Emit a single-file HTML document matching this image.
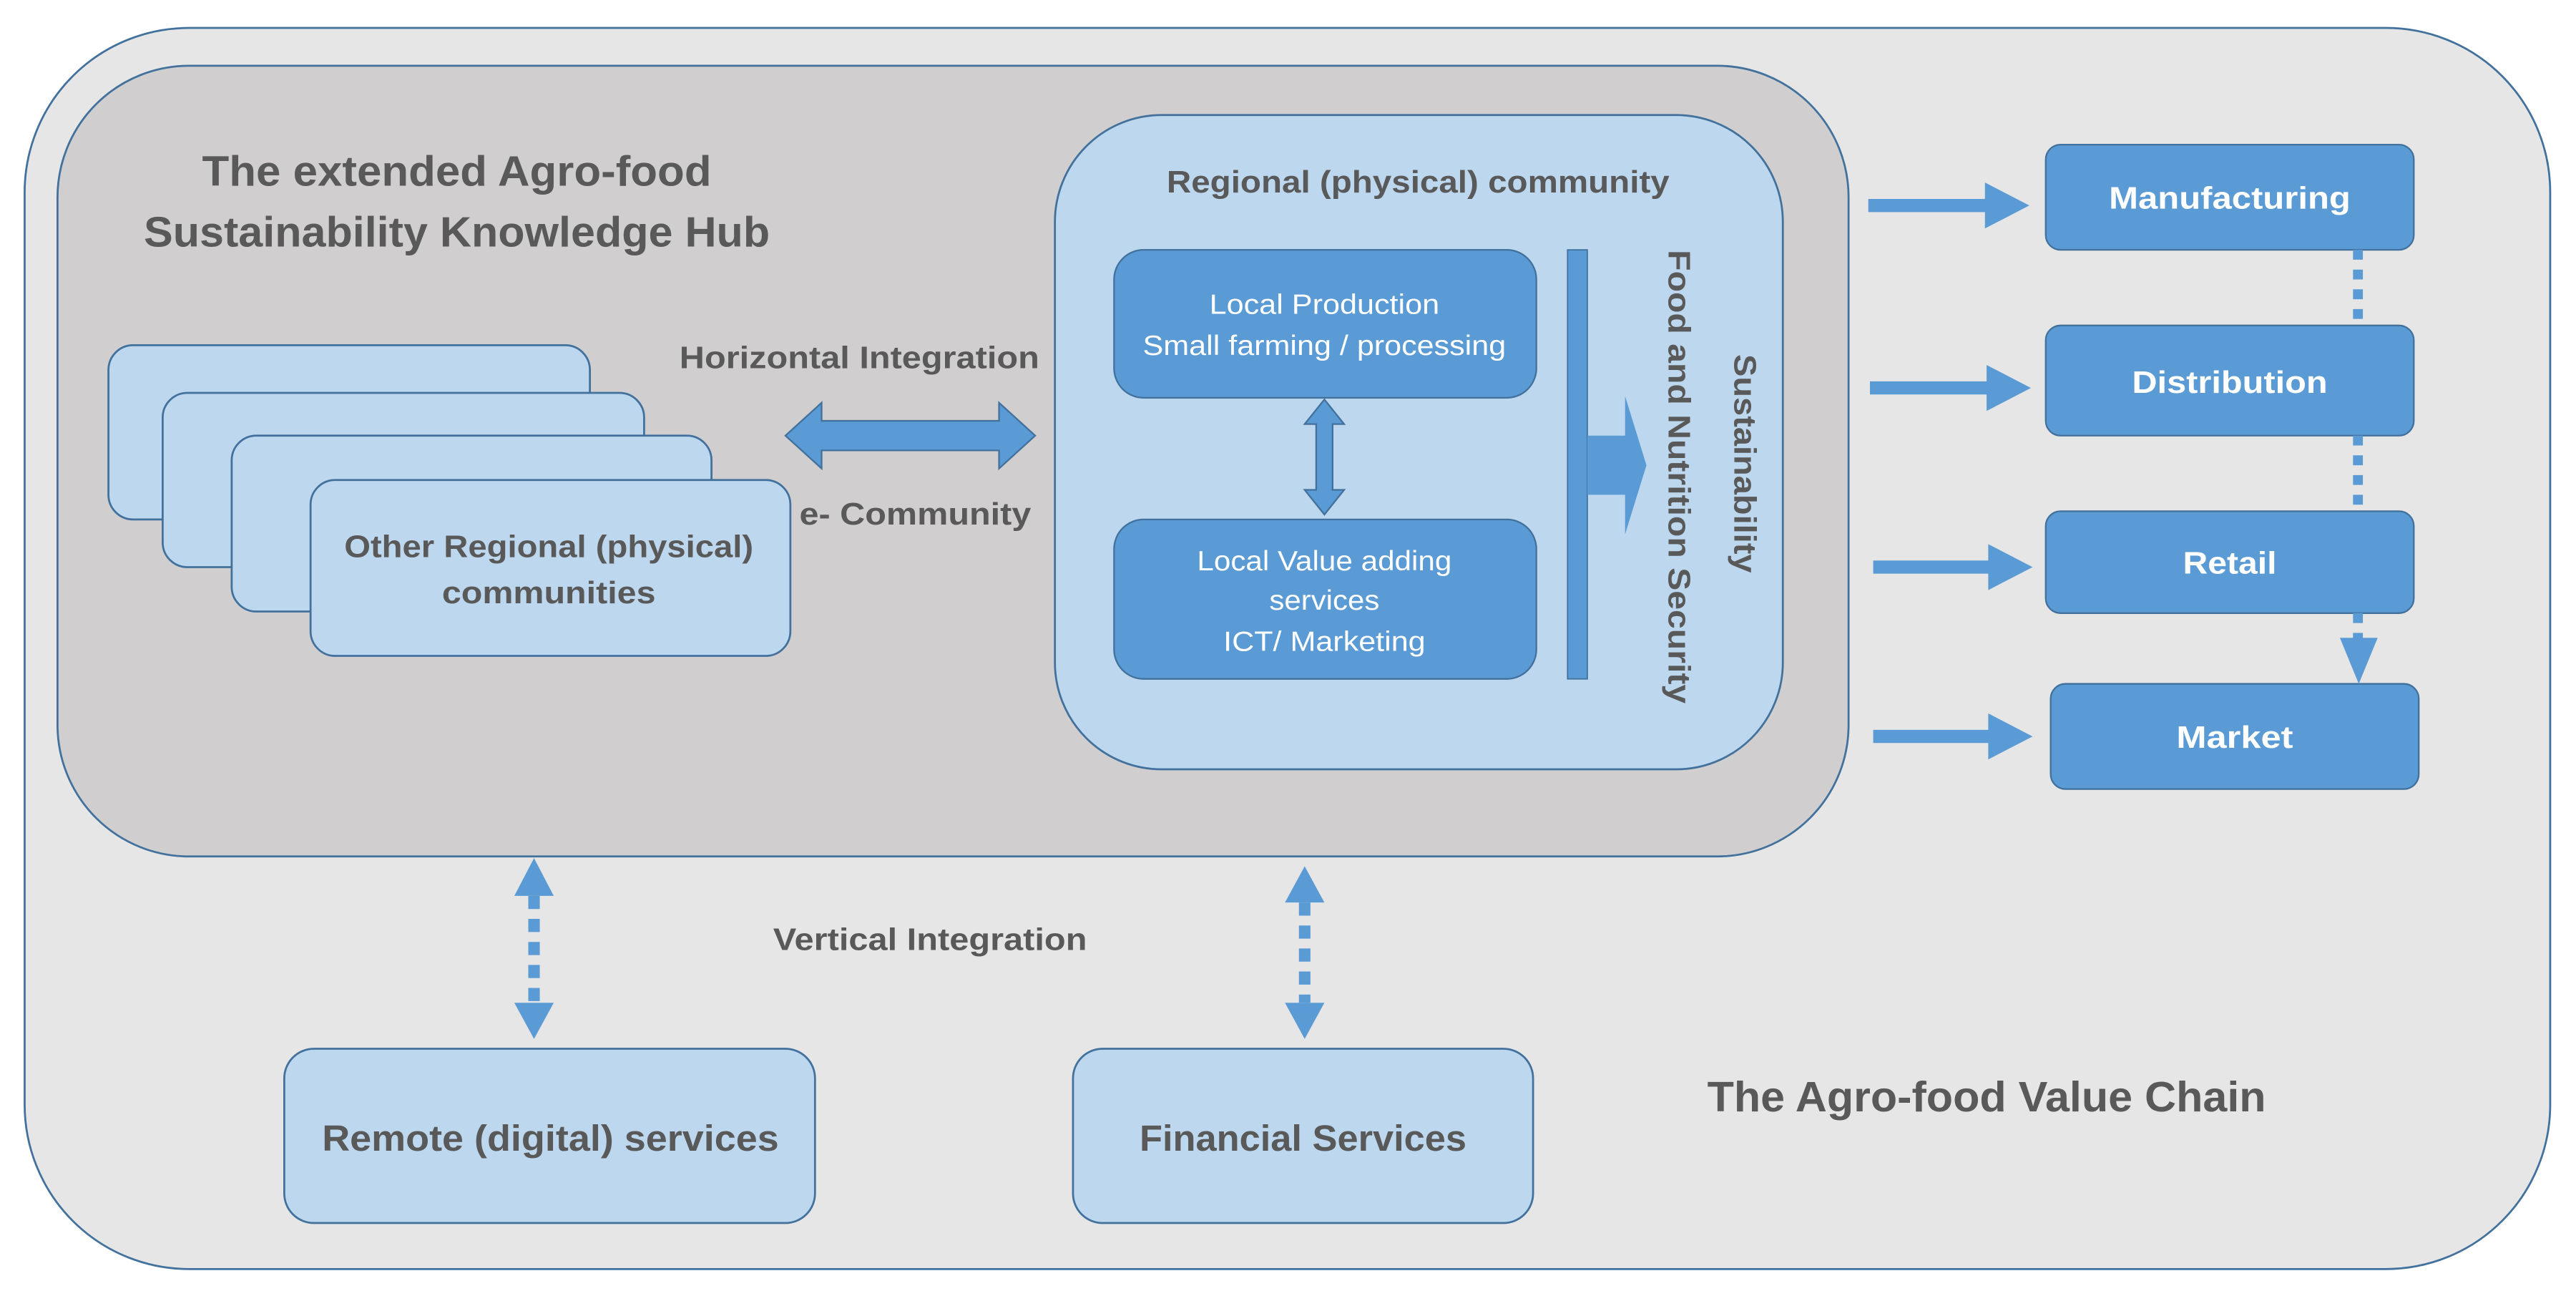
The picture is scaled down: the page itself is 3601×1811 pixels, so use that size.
<!DOCTYPE html>
<html><head><meta charset="utf-8"><style>html,body{margin:0;padding:0;background:#fff}svg{display:block}</style></head>
<body>
<svg width="3601" height="1811" viewBox="0 0 1567.7 788.4" preserveAspectRatio="none" xmlns="http://www.w3.org/2000/svg" font-family="'Liberation Sans', sans-serif">
<rect x="0" y="0" width="1567.7" height="788.4" fill="#fff"/>
<rect x="15" y="17" width="1537" height="755" rx="100" fill="#e6e6e6" stroke="#41719c" stroke-width="1.2"/>
<rect x="35" y="40" width="1090" height="481" rx="80" fill="#d0cece" stroke="#41719c" stroke-width="1.2"/>
<g font-weight="bold" fill="#595959">
<text x="278" y="113" font-size="26" text-anchor="middle" textLength="310" lengthAdjust="spacingAndGlyphs">The extended Agro-food</text>
<text x="278" y="150" font-size="26" text-anchor="middle" textLength="381" lengthAdjust="spacingAndGlyphs">Sustainability Knowledge Hub</text>
</g>
<g fill="#bdd7ee" stroke="#41719c" stroke-width="1.2">
<rect x="66" y="210" width="293" height="106" rx="15"/>
<rect x="99" y="239" width="293" height="106" rx="15"/>
<rect x="141" y="265" width="292" height="107" rx="15"/>
<rect x="189" y="292" width="292" height="107" rx="15"/>
</g>
<g font-weight="bold" fill="#595959" font-size="19" text-anchor="middle">
<text x="334" y="339" textLength="249" lengthAdjust="spacingAndGlyphs">Other Regional (physical)</text>
<text x="334" y="367" textLength="130" lengthAdjust="spacingAndGlyphs">communities</text>
<text x="523" y="224" textLength="219" lengthAdjust="spacingAndGlyphs">Horizontal Integration</text>
<text x="557" y="319" textLength="141" lengthAdjust="spacingAndGlyphs">e- Community</text>
<text x="566" y="578" textLength="191" lengthAdjust="spacingAndGlyphs">Vertical Integration</text>
</g>
<polygon points="478,265 500,245 500,256 608,256 608,245 630,265 608,285 608,274 500,274 500,285" fill="#5b9bd5" stroke="#41719c" stroke-width="1"/>
<rect x="642" y="70" width="443" height="398" rx="65" fill="#bdd7ee" stroke="#41719c" stroke-width="1.2"/>
<text x="863" y="117" font-size="19" font-weight="bold" fill="#595959" text-anchor="middle" textLength="306" lengthAdjust="spacingAndGlyphs">Regional (physical) community</text>
<rect x="678" y="152" width="257" height="90" rx="18" fill="#5b9bd5" stroke="#41719c" stroke-width="1"/>
<rect x="678" y="316" width="257" height="97" rx="18" fill="#5b9bd5" stroke="#41719c" stroke-width="1"/>
<g fill="#fff" font-size="17" text-anchor="middle">
<text x="806" y="191" textLength="140" lengthAdjust="spacingAndGlyphs">Local Production</text>
<text x="806" y="216" textLength="221" lengthAdjust="spacingAndGlyphs">Small farming / processing</text>
<text x="806" y="347" textLength="155" lengthAdjust="spacingAndGlyphs">Local Value adding</text>
<text x="806" y="371" textLength="67" lengthAdjust="spacingAndGlyphs">services</text>
<text x="806" y="396" textLength="123" lengthAdjust="spacingAndGlyphs">ICT/ Marketing</text>
</g>
<polygon points="806,243 818,258 811,258 811,298 818,298 806,313 794,298 801,298 801,258 794,258" fill="#5b9bd5" stroke="#41719c" stroke-width="1"/>
<rect x="954" y="152" width="12" height="261" fill="#5b9bd5" stroke="#41719c" stroke-width="0.8"/>
<polygon points="966,265 989,265 989,241 1002,283 989,325 989,301 966,301" fill="#5b9bd5"/>
<g fill="#595959" font-weight="bold" font-size="19">
<text transform="translate(1022,290) rotate(90)" y="6.5" text-anchor="middle" textLength="276" lengthAdjust="spacingAndGlyphs">Food and Nutrition Security</text>
<text transform="translate(1062,282) rotate(90)" y="6.5" text-anchor="middle" textLength="133" lengthAdjust="spacingAndGlyphs">Sustainability</text>
</g>
<g fill="#5b9bd5" stroke="#41719c" stroke-width="1">
<rect x="1245" y="88" width="224" height="64" rx="9"/>
<rect x="1245" y="198" width="224" height="67" rx="9"/>
<rect x="1245" y="311" width="224" height="62" rx="9"/>
<rect x="1248" y="416" width="224" height="64" rx="9"/>
</g>
<g fill="#fff" font-weight="bold" font-size="19" text-anchor="middle">
<text x="1357" y="127" textLength="147" lengthAdjust="spacingAndGlyphs">Manufacturing</text>
<text x="1357" y="239" textLength="119" lengthAdjust="spacingAndGlyphs">Distribution</text>
<text x="1357" y="349" textLength="57" lengthAdjust="spacingAndGlyphs">Retail</text>
<text x="1360" y="455" textLength="71" lengthAdjust="spacingAndGlyphs">Market</text>
</g>
<g fill="#5b9bd5">
<polygon points="1137,121 1208,121 1208,111 1235,125 1208,139 1208,129 1137,129"/>
<polygon points="1138,232 1209,232 1209,222 1236,236 1209,250 1209,240 1138,240"/>
<polygon points="1140,341 1210,341 1210,331 1237,345 1210,359 1210,349 1140,349"/>
<polygon points="1140,444 1210,444 1210,434 1237,448 1210,462 1210,452 1140,452"/>
<polygon points="1424,388 1447,388 1435.5,416"/>
</g>
<g stroke="#5b9bd5" stroke-width="6" fill="none" stroke-dasharray="6,6">
<line x1="1435" y1="152" x2="1435" y2="198"/>
<line x1="1435" y1="265" x2="1435" y2="311"/>
<line x1="1435" y1="373" x2="1435" y2="389"/>
</g>
<g fill="#5b9bd5">
<polygon points="325,522 337,545 313,545"/>
<polygon points="325,632 337,610 313,610"/>
<polygon points="794,527 806,549 782,549"/>
<polygon points="794,632 806,610 782,610"/>
</g>
<g stroke="#5b9bd5" stroke-width="7" fill="none" stroke-dasharray="8,6">
<line x1="325" y1="545" x2="325" y2="610"/>
<line x1="794" y1="549" x2="794" y2="610"/>
</g>
<rect x="173" y="638" width="323" height="106" rx="18" fill="#bdd7ee" stroke="#41719c" stroke-width="1.2"/>
<rect x="653" y="638" width="280" height="106" rx="18" fill="#bdd7ee" stroke="#41719c" stroke-width="1.2"/>
<g font-weight="bold" fill="#595959" text-anchor="middle">
<text x="335" y="700" font-size="22" textLength="278" lengthAdjust="spacingAndGlyphs">Remote (digital) services</text>
<text x="793" y="700" font-size="22" textLength="199" lengthAdjust="spacingAndGlyphs">Financial Services</text>
<text x="1209" y="676" font-size="26" textLength="340" lengthAdjust="spacingAndGlyphs">The Agro-food Value Chain</text>
</g>
</svg>
</body></html>
